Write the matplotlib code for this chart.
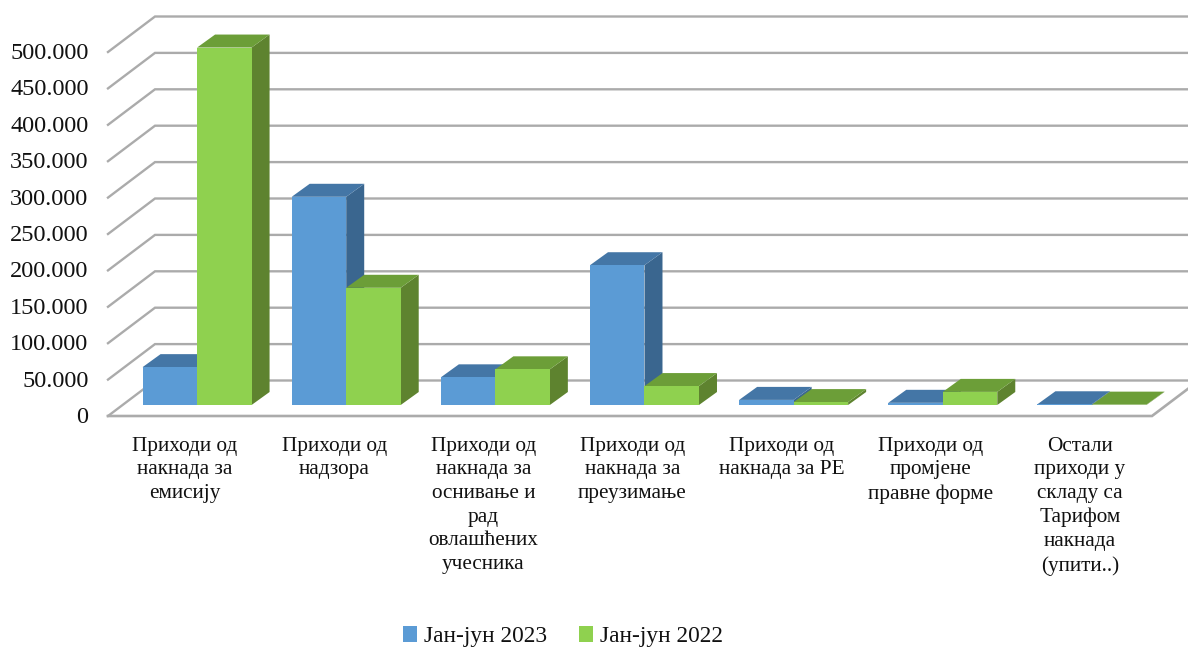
import matplotlib
matplotlib.use("Agg")
import matplotlib.pyplot as plt
from matplotlib.patches import Polygon, Patch
from matplotlib.ticker import FuncFormatter
from matplotlib.transforms import ScaledTranslation

plt.rcParams['font.family'] = ['Liberation Serif', 'DejaVu Serif']

categories = [
    "Приходи од\nнакнада за\nемисију",
    "Приходи од\nнадзора",
    "Приходи од\nнакнада за\nоснивање и\nрад\nовлашћених\nучесника",
    "Приходи од\nнакнада за\nпреузимање",
    "Приходи од\nнакнада за РЕ",
    "Приходи од\nпромјене\nправне форме",
    "Остали\nприходи у\nскладу са\nТарифом\nнакнада\n(упити..)",
]
series_names = ["Јан-јун 2023", "Јан-јун 2022"]
values_2023 = [52000, 286000, 38000, 192000, 7000, 3000, 1000]
values_2022 = [491000, 161000, 49000, 26000, 4000, 18000, 500]
yticks = [0, 50000, 100000, 150000, 200000, 250000, 300000, 350000, 400000, 450000, 500000]

W, H = 1188, 650
fig = plt.figure(figsize=(W / 100, H / 100), dpi=100, facecolor='white')
L, R, B, T = 108, 1188, 416, 16
ax = fig.add_axes([L / W, 1 - B / H, (R - L) / W, (B - T) / H])
px_x = 149.14
px_y = 36.4 / 50000
ax.set_xlim(0, (R - L) / px_x)
ax.set_ylim(0, (B - T) / px_y)
for s in ax.spines.values():
    s.set_visible(False)

# depth of the chart box, data units
wall_dx = 47 / px_x
wall_dy = 35.5 / px_y
n = len(categories)
grid_c = '#ababab'
for v in yticks:
    ax.plot([0, wall_dx, n + wall_dx], [v, v + wall_dy, v + wall_dy],
            color=grid_c, lw=1.7, clip_on=False, zorder=1, solid_joinstyle='miter')
ax.plot([0, n, n + wall_dx], [0, 0, wall_dy], color=grid_c, lw=1.9, clip_on=False, zorder=1,
        solid_joinstyle='miter')

# bars
bar_w = 54.5 / px_x
start_dx = 14.5 / px_x
start_dy = 11 / px_y
bar_dx = 18 / px_x
bar_dy = 13 / px_y
styles = [('#5B9BD5', '#4476A6', '#3A668F'), ('#8FD14F', '#6C9E38', '#5E832F')]


def bar3d(x0, v, st, z):
    x1 = x0 + bar_w
    y0 = start_dy
    y1 = y0 + v
    front, top, side = st
    ax.add_patch(Polygon([(x1, y0), (x1 + bar_dx, y0 + bar_dy), (x1 + bar_dx, y1 + bar_dy), (x1, y1)],
                         fc=side, ec='none', zorder=z, clip_on=False))
    ax.add_patch(Polygon([(x0, y1), (x1, y1), (x1 + bar_dx, y1 + bar_dy), (x0 + bar_dx, y1 + bar_dy)],
                         fc=top, ec='none', zorder=z, clip_on=False))
    ax.add_patch(Polygon([(x0, y0), (x1, y0), (x1, y1), (x0, y1)],
                         fc=front, ec='none', zorder=z, clip_on=False))


for i in range(n):
    c = i + 0.5 + start_dx
    bar3d(c - bar_w, values_2023[i], styles[0], 2 + i * 2)
    bar3d(c, values_2022[i], styles[1], 3 + i * 2)

ax.set_yticks(yticks)
ax.yaxis.set_major_formatter(FuncFormatter(lambda v, _: f"{int(v):,}".replace(',', '.')))
ax.tick_params(axis='y', length=0, pad=14, labelsize=17.5, labelcolor='#111111')
shift = ScaledTranslation(0, -1.5 / 100, fig.dpi_scale_trans)
for lab in ax.get_yticklabels():
    lab.set_verticalalignment('center')
    lab.set_transform(lab.get_transform() + shift)
label_shift = 2.5 / px_x
ax.set_xticks([i + 0.5 + label_shift for i in range(n)])
ax.set_xticklabels(categories, fontsize=15.3, linespacing=1.33, color='#111111', ha='center', va='top')
ax.tick_params(axis='x', length=0, pad=15)

handles = [Patch(fc=styles[0][0], ec='none'), Patch(fc=styles[1][0], ec='none')]
fig.legend(handles, series_names, loc='lower center', bbox_to_anchor=(0.474, -0.028), ncol=2, frameon=False,
           fontsize=16.8, handlelength=0.62, handleheight=0.62, handletextpad=0.3, columnspacing=1.35,
           labelcolor='#111111')

fig.savefig('out.png', dpi=100, facecolor='white')
